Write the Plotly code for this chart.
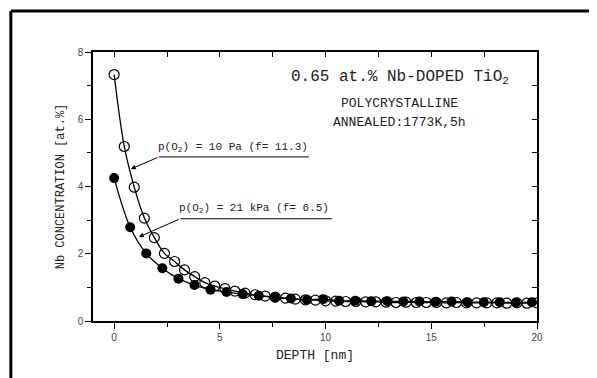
import plotly.graph_objects as go

# p(O2) = 10 Pa (open circles)
depth_open = [0.00, 0.48, 0.95, 1.43, 1.90, 2.38, 2.86, 3.33, 3.81, 4.29, 4.76, 5.24, 5.71,
              6.19, 6.67, 7.14, 7.62, 8.10, 8.57, 9.05, 9.52, 10.00, 10.48, 10.95, 11.43,
              11.90, 12.38, 12.86, 13.33, 13.81, 14.29, 14.76, 15.24, 15.71, 16.19, 16.67,
              17.14, 17.62, 18.10, 18.57, 19.05, 19.52, 20.00]
conc_open = [7.33, 5.19, 3.98, 3.06, 2.48, 2.01, 1.77, 1.52, 1.32, 1.14, 1.04, 0.96, 0.89,
             0.83, 0.78, 0.74, 0.71, 0.68, 0.65, 0.63, 0.62, 0.60, 0.59, 0.58, 0.58,
             0.57, 0.57, 0.56, 0.55, 0.56, 0.55, 0.55, 0.55, 0.54, 0.55, 0.54,
             0.54, 0.54, 0.54, 0.53, 0.54, 0.53, 0.54]

# p(O2) = 21 kPa (filled circles)
depth_fill = [0.00, 0.76, 1.52, 2.28, 3.04, 3.80, 4.56, 5.32, 6.08, 6.84, 7.60, 8.36, 9.12,
              9.88, 10.64, 11.40, 12.16, 12.92, 13.68, 14.44, 15.20, 15.96, 16.72, 17.48,
              18.24, 19.00, 19.76]
conc_fill = [4.25, 2.79, 2.01, 1.57, 1.26, 1.07, 0.93, 0.86, 0.80, 0.75, 0.70, 0.67, 0.63,
             0.65, 0.60, 0.60, 0.59, 0.59, 0.58, 0.58, 0.57, 0.58, 0.56, 0.56,
             0.56, 0.55, 0.56]

x_ticks = [0, 5, 10, 15, 20]
y_ticks = [0, 2, 4, 6, 8]

MONO = "Liberation Mono"
TICKF = dict(family="Liberation Sans", size=10, color="#444444")

fig = go.Figure()
fig.add_trace(go.Scatter(
    x=depth_open, y=conc_open, mode="lines+markers",
    line=dict(color="black", width=1.3, shape="spline", smoothing=1.0),
    marker=dict(symbol="circle-open", size=10, color="black", line=dict(width=1.2)),
    showlegend=False))
fig.add_trace(go.Scatter(
    x=depth_fill, y=conc_fill, mode="lines+markers",
    line=dict(color="black", width=1.3, shape="spline", smoothing=1.0),
    marker=dict(symbol="circle", size=10, color="black"),
    showlegend=False))
# invisible trace so the mirrored top/right frame axes get drawn
fig.add_trace(go.Scatter(
    x=depth_fill, y=conc_fill, xaxis="x2", yaxis="y2", mode="markers",
    marker=dict(opacity=0), hoverinfo="skip", showlegend=False))

fig.update_layout(
    width=597, height=378,
    margin=dict(l=85, r=68, t=44, b=65),
    paper_bgcolor="white", plot_bgcolor="white",
    xaxis=dict(range=[-1, 20], tickvals=x_ticks, ticktext=[str(v) for v in x_ticks],
               ticks="outside", ticklen=6, tickwidth=1.2, tickcolor="black",
               minor=dict(dtick=2.5, tick0=0, ticks="outside", ticklen=4, tickcolor="black"),
               showline=True, linecolor="black", linewidth=1.5, showgrid=False,
               zeroline=False, tickfont=TICKF, automargin=False,
               title=dict(text="DEPTH [nm]", font=dict(family=MONO, size=13, color="#222"),
                          standoff=8)),
    yaxis=dict(range=[0, 8], tickvals=y_ticks, ticktext=[str(v) for v in y_ticks],
               ticks="outside", ticklen=6, tickwidth=1.2, tickcolor="black",
               minor=dict(dtick=1, tick0=0, ticks="outside", ticklen=4, tickcolor="black"),
               showline=True, linecolor="black", linewidth=1.5, showgrid=False,
               zeroline=False, tickfont=TICKF, automargin=False,
               title=dict(text="Nb CONCENTRATION [at.%]",
                          font=dict(family=MONO, size=12, color="#222"), standoff=10)),
    xaxis2=dict(overlaying="x", side="top", anchor="y2", range=[-1, 20], dtick=2.5, tick0=0,
                ticks="inside", ticklen=5, tickcolor="black", showticklabels=False,
                showline=True, linecolor="black", linewidth=1.5, showgrid=False,
                zeroline=False),
    yaxis2=dict(overlaying="y", side="right", anchor="x2", range=[0, 8], dtick=1, tick0=0,
                ticks="inside", ticklen=5, tickcolor="black", showticklabels=False,
                showline=True, linecolor="black", linewidth=1.5, showgrid=False,
                zeroline=False),
)

# page frame
fig.add_shape(type="line", xref="paper", yref="paper", x0=-0.185, x1=1.3, y0=1.152, y1=1.152,
              line=dict(color="black", width=3))
fig.add_shape(type="line", xref="paper", yref="paper", x0=-0.185, x1=-0.185, y0=1.152, y1=-0.4,
              line=dict(color="black", width=3))

# labels with underline + arrow
fig.add_shape(type="line", x0=2.12, x1=9.21, y0=4.88, y1=4.88, line=dict(color="black", width=1))
fig.add_shape(type="line", x0=3.12, x1=10.30, y0=3.04, y1=3.04, line=dict(color="black", width=1))
fig.add_annotation(x=0.79, y=4.52, ax=2.12, ay=4.88, axref="x", ayref="y", text="",
                   showarrow=True, arrowhead=2, arrowsize=1, arrowwidth=1, arrowcolor="black")
fig.add_annotation(x=1.17, y=2.50, ax=3.12, ay=3.04, axref="x", ayref="y", text="",
                   showarrow=True, arrowhead=2, arrowsize=1, arrowwidth=1, arrowcolor="black")
fig.add_annotation(x=5.64, y=4.92, text="p(O<sub>2</sub>) = 10 Pa (f= 11.3)", showarrow=False,
                   yanchor="bottom", font=dict(family=MONO, size=11, color="#222"))
fig.add_annotation(x=6.61, y=3.08, text="p(O<sub>2</sub>) = 21 kPa (f= 6.5)", showarrow=False,
                   yanchor="bottom", font=dict(family=MONO, size=11, color="#222"))

fig.add_annotation(x=13.52, y=7.23, text="0.65 at.% Nb-DOPED TiO<sub>2</sub>", showarrow=False,
                   font=dict(family=MONO, size=16, color="#222"))
fig.add_annotation(x=13.52, y=6.46, text="POLYCRYSTALLINE", showarrow=False,
                   font=dict(family=MONO, size=13, color="#222"))
fig.add_annotation(x=13.52, y=5.89, text="ANNEALED:1773K,5h", showarrow=False,
                   font=dict(family=MONO, size=13, color="#222"))

fig.write_html("out.html")
